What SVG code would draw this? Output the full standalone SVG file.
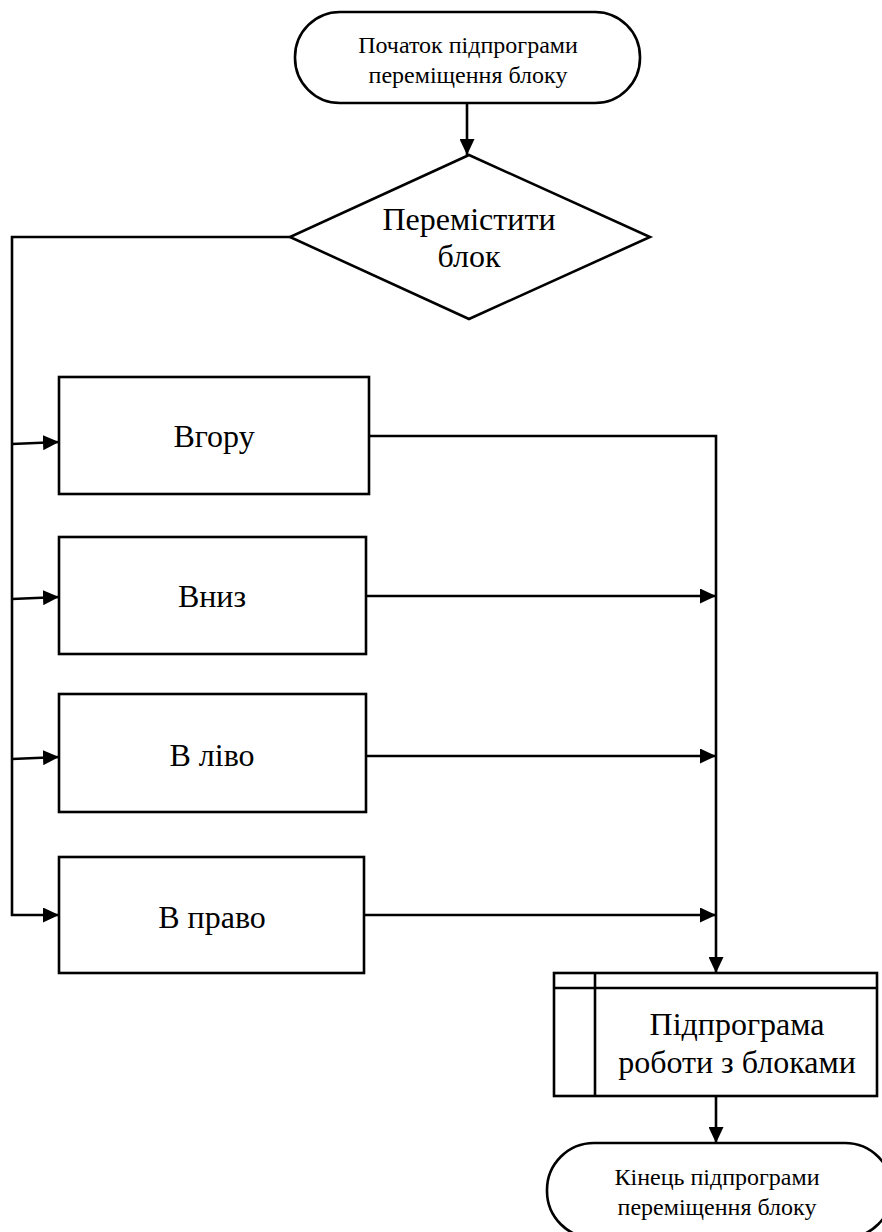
<svg xmlns="http://www.w3.org/2000/svg" width="882" height="1232" viewBox="0 0 882 1232">
<style>
.shape{fill:#fff;stroke:#000;stroke-width:2.6}
.line{fill:none;stroke:#000;stroke-width:2.6}
text{font-family:'Liberation Serif','Times New Roman',serif;fill:#000;text-anchor:middle}
.s{font-size:24px}
.b{font-size:32px}
</style>
<defs>
<marker id="arr" markerUnits="userSpaceOnUse" markerWidth="17" markerHeight="15" refX="16" refY="7.5" orient="auto">
<path d="M0,0 L16,7.5 L0,15 z" fill="#000"/>
</marker>
</defs>
<g id="connectors">
<line class="line" x1="467" y1="103" x2="467" y2="155" marker-end="url(#arr)"/>
<polyline class="line" points="290,237 12,237 12,915 59,915" marker-end="url(#arr)"/>
<line class="line" x1="12" y1="444" x2="59" y2="442" marker-end="url(#arr)"/>
<line class="line" x1="12" y1="599" x2="59" y2="597" marker-end="url(#arr)"/>
<line class="line" x1="12" y1="759" x2="59" y2="757" marker-end="url(#arr)"/>
<polyline class="line" points="369,436 716,436 716,973" marker-end="url(#arr)"/>
<line class="line" x1="366" y1="596" x2="716" y2="596" marker-end="url(#arr)"/>
<line class="line" x1="366" y1="756" x2="716" y2="756" marker-end="url(#arr)"/>
<line class="line" x1="364" y1="915" x2="716" y2="915" marker-end="url(#arr)"/>
<line class="line" x1="716" y1="1096" x2="716" y2="1143" marker-end="url(#arr)"/>
</g>
<g id="start">
<rect class="shape" x="295" y="12" width="345" height="91" rx="45" ry="45"/>
<text class="s" x="468" y="53">Початок підпрограми</text>
<text class="s" x="468" y="83">переміщення блоку</text>
</g>
<g id="decision">
<polygon class="shape" points="469,155 650,237 469,319 290,237"/>
<text class="b" x="469" y="230">Перемістити</text>
<text class="b" x="469" y="267">блок</text>
</g>
<g id="up">
<rect class="shape" x="59" y="377" width="310" height="117"/>
<text class="b" x="214" y="447">Вгору</text>
</g>
<g id="down">
<rect class="shape" x="59" y="537" width="307" height="117"/>
<text class="b" x="212" y="607">Вниз</text>
</g>
<g id="left">
<rect class="shape" x="59" y="694" width="307" height="118"/>
<text class="b" x="212" y="766">В ліво</text>
</g>
<g id="right">
<rect class="shape" x="59" y="857" width="305" height="116"/>
<text class="b" x="212" y="928">В право</text>
</g>
<g id="subroutine">
<rect class="shape" x="554" y="973" width="323" height="123"/>
<line class="line" x1="554" y1="988" x2="877" y2="988"/>
<line class="line" x1="595" y1="973" x2="595" y2="1096"/>
<text class="b" x="737" y="1035">Підпрограма</text>
<text class="b" x="737" y="1073">роботи з блоками</text>
</g>
<g id="end">
<rect class="shape" x="547" y="1143" width="345" height="95" rx="47" ry="47"/>
<text class="s" x="717" y="1185">Кінець підпрограми</text>
<text class="s" x="717" y="1215">переміщення блоку</text>
</g>
</svg>
